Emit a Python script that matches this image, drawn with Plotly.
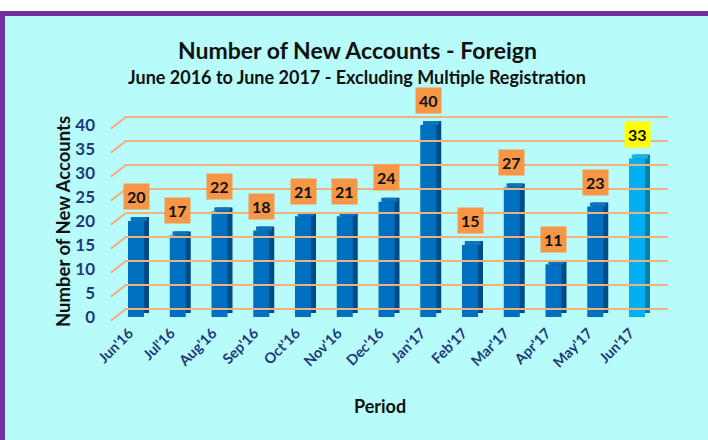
import plotly.graph_objects as go

# ---- data ----
periods = ["Jun'16", "Jul'16", "Aug'16", "Sep'16", "Oct'16", "Nov'16", "Dec'16",
           "Jan'17", "Feb'17", "Mar'17", "Apr'17", "May'17", "Jun'17"]
accounts = [20, 17, 22, 18, 21, 21, 24, 40, 15, 27, 11, 23, 33]
y_ticks = [0, 5, 10, 15, 20, 25, 30, 35, 40]

title_text = "Number of New Accounts - Foreign"
subtitle_text = "June 2016 to June 2017 - Excluding Multiple Registration"
y_title = "Number of New Accounts"
x_title = "Period"

# ---- styling ----
W, H = 708, 440
FONT = "Lato"
BG = "#B8FBFB"
PURPLE = "#7030A0"
GRID = "#F2B07C"
NAVY = "#1F3A78"
front_cols = ["#0070C0"] * (len(accounts) - 1) + ["#00B0F0"]
side_cols = ["#004B86"] * (len(accounts) - 1) + ["#0A7FAE"]
top_cols = ["#0F72BE"] * (len(accounts) - 1) + ["#18B2EC"]
label_bg = ["#F79646"] * (len(accounts) - 1) + ["#FFFF00"]

# pixel geometry helpers (plot area)
px_left, px_right = 108, 670
px_top, px_bottom = 110, 325
zero_px, unit_px = 317, 4.8        # value 0 at y=317 px, 4.8 px per unit
cat0_px, cat_px = 136, 41.75       # first category centre, spacing

xr = [(px_left - cat0_px) / cat_px, (px_right - cat0_px) / cat_px]
yr = [(zero_px - px_bottom) / unit_px, (zero_px - px_top) / unit_px]

bar_w = 16 / cat_px
dx = 5 / cat_px     # 3D depth offset (x)
dy = 4 / unit_px    # 3D depth offset (y)

xs = list(range(len(periods)))

fig = go.Figure()

# gridlines (back wall + left diagonal floor edge)
gx, gy = [], []
x_front = (111 - cat0_px) / cat_px
x_back = (126 - cat0_px) / cat_px
x_end = (668 - cat0_px) / cat_px
for t in y_ticks:
    gx += [x_front, x_back, x_end, None]
    gy += [t - 0.75, t + 1.67, t + 1.67, None]
fig.add_trace(go.Scatter(x=gx, y=gy, mode="lines",
                         line=dict(color=GRID, width=2),
                         hoverinfo="skip", showlegend=False))

# side (dark, shifted back)
fig.add_trace(go.Bar(x=xs, y=accounts, base=[dy] * len(accounts),
                     width=bar_w, offset=-bar_w / 2 + dx,
                     marker=dict(color=side_cols, line=dict(width=0)),
                     showlegend=False, hoverinfo="skip"))
# top face
fig.add_trace(go.Bar(x=xs, y=[dy] * len(accounts), base=accounts,
                     width=bar_w, offset=-bar_w / 2 + dx * 0.55,
                     marker=dict(color=top_cols, line=dict(width=0)),
                     showlegend=False, hoverinfo="skip"))
# front face
fig.add_trace(go.Bar(x=xs, y=accounts, width=bar_w, offset=-bar_w / 2,
                     marker=dict(color=front_cols, line=dict(width=0)),
                     showlegend=False))

annotations = []
for x, v, bg in zip(xs, accounts, label_bg):
    annotations.append(dict(x=x, y=v, xref="x", yref="y", text=str(v),
                            showarrow=False, yanchor="bottom", yshift=11,
                            bgcolor=bg, borderpad=3,
                            font=dict(family=FONT, size=16, color="#111111",
                                      weight="bold")))

annotations += [
    dict(x=357 / W, y=1 - 50 / H, xref="paper", yref="paper", text=title_text,
         showarrow=False, xanchor="center", yanchor="middle",
         font=dict(family=FONT, size=23, color="#111111", weight="bold")),
    dict(x=357 / W, y=1 - 77 / H, xref="paper", yref="paper", text=subtitle_text,
         showarrow=False, xanchor="center", yanchor="middle",
         font=dict(family=FONT, size=18, color="#111111", weight="bold")),
    dict(x=63 / W, y=1 - 222 / H, xref="paper", yref="paper", text=y_title,
         showarrow=False, textangle=-90, xanchor="center", yanchor="middle",
         font=dict(family=FONT, size=18.5, color="#111111", weight="bold")),
    dict(x=380 / W, y=1 - 406 / H, xref="paper", yref="paper", text=x_title,
         showarrow=False, xanchor="center", yanchor="middle",
         font=dict(family=FONT, size=18, color="#111111", weight="bold")),
]

fig.update_layout(
    width=W, height=H,
    margin=dict(l=0, r=0, t=0, b=0, autoexpand=False),
    paper_bgcolor="white", plot_bgcolor="rgba(0,0,0,0)",
    barmode="overlay", showlegend=False,
    annotations=annotations,
    shapes=[dict(type="rect", xref="paper", yref="paper", layer="below",
                 x0=2.5 / W, x1=1.05, y0=-0.05, y1=1 - 13.5 / H,
                 fillcolor=BG, line=dict(color=PURPLE, width=5))],
    xaxis=dict(domain=[px_left / W, px_right / W], range=xr, automargin=False,
               tickmode="array", tickvals=xs, ticktext=periods, tickangle=-45,
               showgrid=False, zeroline=False, showline=False, ticks="",
               ticklabelstandoff=-4, ticklabelshift=-7,
               tickfont=dict(family=FONT, size=14.5, color=NAVY, weight="bold")),
    yaxis=dict(domain=[1 - px_bottom / H, 1 - px_top / H], range=yr,
               automargin=False,
               tickmode="array", tickvals=y_ticks,
               showgrid=False, zeroline=False, showline=False, ticks="",
               ticklabelstandoff=12,
               tickfont=dict(family=FONT, size=17, color=NAVY, weight="bold")),
)

fig.write_html("out.html")
